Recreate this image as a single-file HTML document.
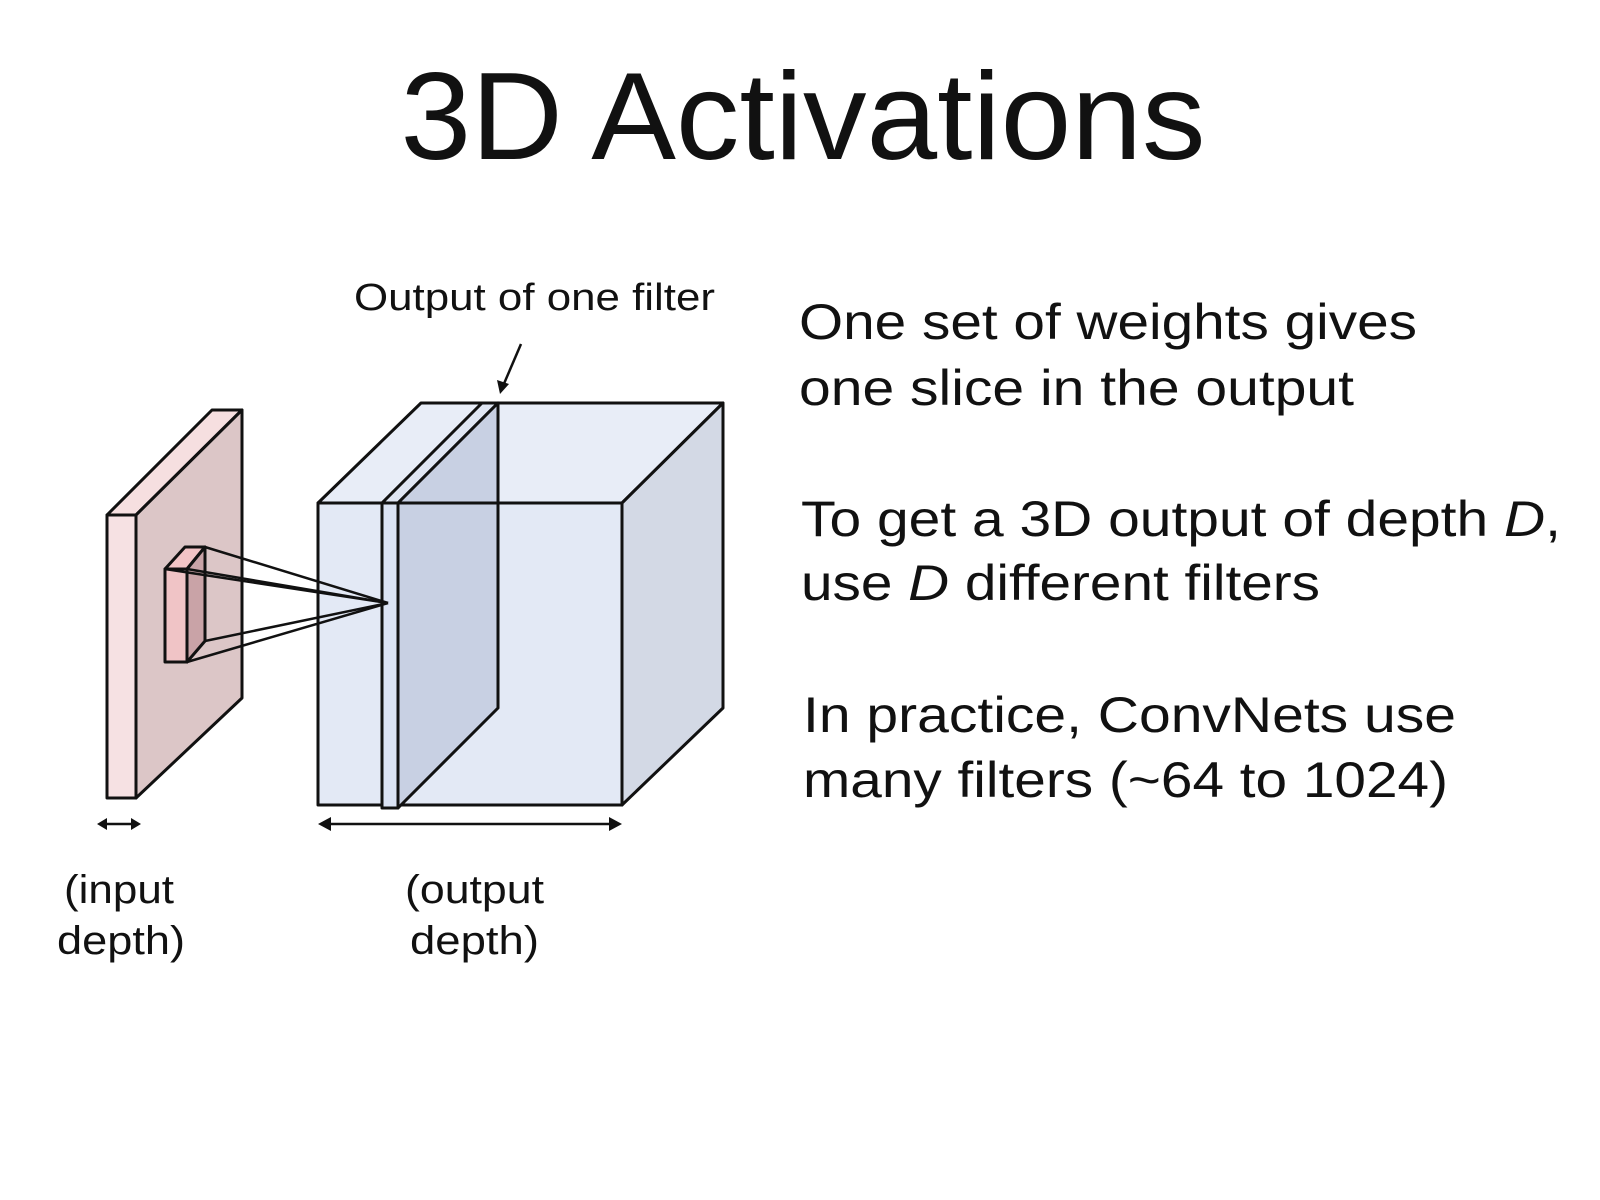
<!DOCTYPE html>
<html><head><style>body{margin:0;background:#fff}svg{display:block}</style></head><body>
<svg width="1600" height="1200" viewBox="0 0 1600 1200" xmlns="http://www.w3.org/2000/svg" font-family="Liberation Sans, sans-serif" fill="#111">
<text x="803" y="159" font-size="124" text-anchor="middle" textLength="805" lengthAdjust="spacingAndGlyphs">3D Activations</text>
<g stroke="#111" stroke-width="3" stroke-linejoin="round">
<!-- pink slab -->
<polygon points="107,515 212,410 242,410 136,515" fill="#f6dfe0"/>
<polygon points="136,515 242,410 242,698 136,798" fill="#dcc6c7"/>
<rect x="107" y="515" width="29" height="283" fill="#f6e1e3"/>
<!-- small box -->
<polygon points="165,569 185,547 205,547 187,569" fill="#f2c4c6"/>
<polygon points="187,569 205,547 205,641 187,662" fill="#c9a3a7"/>
<rect x="165" y="569" width="22" height="93" fill="#f0c4c6"/>
<!-- big cube -->
<polygon points="318,503 421,403 723,403 622,503" fill="#e8edf7"/>
<polygon points="622,503 723,403 723,708 622,805" fill="#d3d9e5"/>
<rect x="318" y="503" width="304" height="302" fill="#e3e9f5"/>
<!-- slice -->
<polygon points="382,503 482,403 498,403 398,503" fill="#dfe5f2"/>
<polygon points="398,503 498,403 498,708 398,808" fill="#c8d0e3"/>
<rect x="382" y="503" width="16" height="305" fill="#dbe3f4"/>
<line x1="398" y1="503" x2="622" y2="503"/>
</g>
<g stroke="#111" stroke-width="2.5">
<line x1="205" y1="547" x2="388" y2="603"/>
<line x1="165" y1="569" x2="388" y2="603"/>
<line x1="187" y1="569" x2="388" y2="603"/>
<line x1="187" y1="662" x2="388" y2="603"/>
<line x1="205" y1="641" x2="388" y2="603"/>
<line x1="103" y1="824" x2="135" y2="824"/>
<line x1="325" y1="824" x2="615" y2="824"/>
<line x1="521" y1="344" x2="503" y2="386"/>
</g>
<g fill="#111">
<polygon points="97,824 107,818 107,830"/><polygon points="141,824 131,818 131,830"/>
<polygon points="318,824 331,817 331,831"/><polygon points="622,824 609,817 609,831"/>
<polygon points="500,394 497,380 509,384"/>
</g>
<text x="354" y="310" font-size="38" textLength="361" lengthAdjust="spacingAndGlyphs">Output of one filter</text>
<g font-size="50">
<text x="799" y="339" textLength="618" lengthAdjust="spacingAndGlyphs">One set of weights gives</text>
<text x="799" y="405" textLength="555" lengthAdjust="spacingAndGlyphs">one slice in the output</text>
<text x="801" y="536" textLength="760" lengthAdjust="spacingAndGlyphs">To get a 3D output of depth <tspan font-style="italic">D</tspan>,</text>
<text x="801" y="600" textLength="519" lengthAdjust="spacingAndGlyphs">use <tspan font-style="italic">D</tspan> different filters</text>
<text x="803" y="732" textLength="653" lengthAdjust="spacingAndGlyphs">In practice, ConvNets use</text>
<text x="803" y="797" textLength="645" lengthAdjust="spacingAndGlyphs">many filters (~64 to 1024)</text>
</g>
<g font-size="40">
<text x="64" y="903" textLength="110" lengthAdjust="spacingAndGlyphs">(input</text>
<text x="57" y="954" textLength="128" lengthAdjust="spacingAndGlyphs">depth)</text>
<text x="405" y="903" textLength="139" lengthAdjust="spacingAndGlyphs">(output</text>
<text x="410" y="954" textLength="129" lengthAdjust="spacingAndGlyphs">depth)</text>
</g>
</svg>
</body></html>
